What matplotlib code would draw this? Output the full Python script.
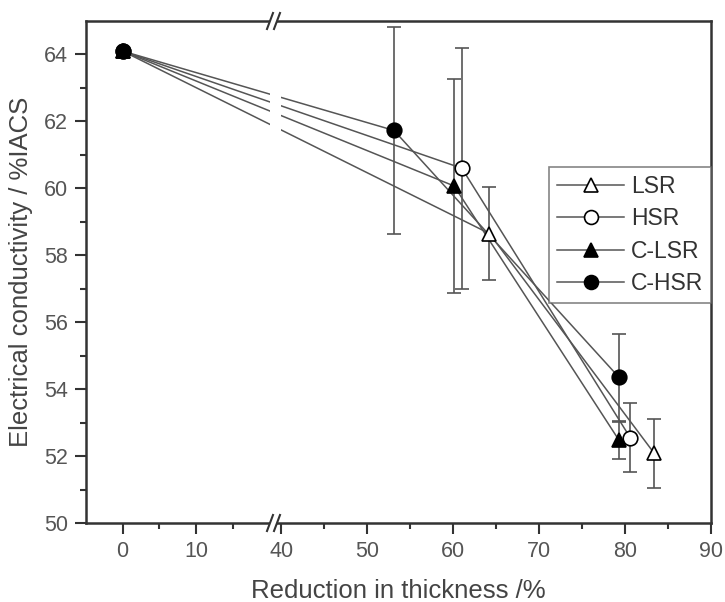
import numpy as np
import matplotlib
matplotlib.use("Agg")
import matplotlib.pyplot as plt
from matplotlib.patches import Polygon
from matplotlib.lines import Line2D

plt.rcParams['font.family'] = ['Liberation Sans', 'DejaVu Sans']

# data: reduction in thickness (%) vs conductivity (%IACS)
lsr_x = [0, 64.2, 83.4]
lsr_y = [64.1, 58.65, 52.08]
lsr_err = [0, 1.4, 1.03]

hsr_x = [0, 61.0, 80.6]
hsr_y = [64.1, 60.6, 52.55]
hsr_err = [0, 3.6, 1.03]

clsr_x = [0, 60.1, 79.3]
clsr_y = [64.1, 60.07, 52.47]
clsr_err = [0, 3.2, 0.55]

chsr_x = [0, 53.1, 79.3]
chsr_y = [64.1, 61.73, 54.35]
chsr_err = [0, 3.1, 1.3]

x_ticks = [0, 10, 40, 50, 60, 70, 80, 90]
x_minor = [5, 15, 45, 55, 65, 75, 85]


# broken x axis: 20..40 squeezed into a tiny gap
def fwd(x):
    x = np.asarray(x, dtype=float)
    return np.where(x <= 20, 7.3 * x,
                    np.where(x < 40, 146 + (x - 20) * 0.6, 158 + 8.55 * (x - 40)))


def inv(u):
    u = np.asarray(u, dtype=float)
    return np.where(u <= 146, u / 7.3,
                    np.where(u < 158, 20 + (u - 146) / 0.6, 40 + (u - 158) / 8.55))


ink = '#333333'
line_c = '#555555'

fig = plt.figure(figsize=(7.25, 6.02), dpi=100)
ax = fig.add_axes([86 / 725, 1 - 523 / 602, 625 / 725, 502 / 602])
ax.set_xscale('function', functions=(fwd, inv))

series = [
    ('LSR', lsr_x, lsr_y, lsr_err, '^', 'white'),
    ('HSR', hsr_x, hsr_y, hsr_err, 'o', 'white'),
    ('C-LSR', clsr_x, clsr_y, clsr_err, '^', 'black'),
    ('C-HSR', chsr_x, chsr_y, chsr_err, 'o', 'black'),
]

handles = []
for name, xs, ys, err, mk, fc in series:
    ax.errorbar(xs, ys, yerr=err, fmt='none', ecolor=line_c, elinewidth=1.2,
                capsize=5, capthick=1.2, zorder=1.5)
    ax.plot(xs, ys, color=line_c, lw=1.1, zorder=2)
    ax.plot(xs, ys, ls='none', marker=mk, markersize=10.5, markerfacecolor=fc,
            markeredgecolor='black', markeredgewidth=1.2, zorder=3)
    handles.append(Line2D([], [], color=line_c, lw=1.1, marker=mk, markersize=10,
                          markerfacecolor=fc, markeredgecolor='black',
                          markeredgewidth=1.2, label=name))

# gap in the lines at the axis break
ax.axvspan(20.3, 39.7, color='white', zorder=2.2, lw=0)

ax.set_xlim(-5, 90)
ax.set_ylim(50, 65)
ax.set_xticks(x_ticks)
ax.set_xticks(x_minor, minor=True)
ax.set_yticks(np.arange(50, 65, 2))
ax.set_yticks(np.arange(51, 65, 2), minor=True)

ax.tick_params(axis='both', which='major', direction='out', length=8, width=1.5,
               colors=ink, labelsize=15.5, labelcolor='#555555', pad=5)
ax.tick_params(axis='both', which='minor', direction='out', length=4, width=1.5, colors=ink)
for s in ax.spines.values():
    s.set_linewidth(1.8)
    s.set_color(ink)

ax.set_xlabel('Reduction in thickness /%', fontsize=18.5, color='#444444', labelpad=12)
ax.set_ylabel('Electrical conductivity / %IACS', fontsize=18.5, color='#444444', labelpad=8)

# break marks on top and bottom spines
bx = (273 - 86) / 625
px_x = 1 / 625
px_y = 1 / 502
for yb in (0, 1):
    poly = Polygon([(bx - 6 * px_x, yb - 7 * px_y), (bx + 1 * px_x, yb - 7 * px_y),
                    (bx + 7 * px_x, yb + 7 * px_y), (bx + 0 * px_x, yb + 7 * px_y)],
                   closed=True, transform=ax.transAxes, facecolor='white',
                   edgecolor='none', clip_on=False, zorder=4)
    ax.add_patch(poly)
    for off in (-6, 1):
        ax.plot([bx + off * px_x, bx + (off + 6) * px_x],
                [yb - 8 * px_y, yb + 8 * px_y], color=ink, lw=1.5,
                transform=ax.transAxes, clip_on=False, zorder=5)

leg = ax.legend(handles=handles, loc='upper right', bbox_to_anchor=(1.0, 0.71),
                borderaxespad=0, fontsize=16.5, frameon=True, fancybox=False,
                handlelength=2.9, handletextpad=0.3, labelspacing=0.42,
                borderpad=0.35)
leg.get_frame().set_edgecolor('#666666')
leg.get_frame().set_linewidth(1.2)
for t in leg.get_texts():
    t.set_color('#333333')

fig.savefig('out.png', dpi=100)
